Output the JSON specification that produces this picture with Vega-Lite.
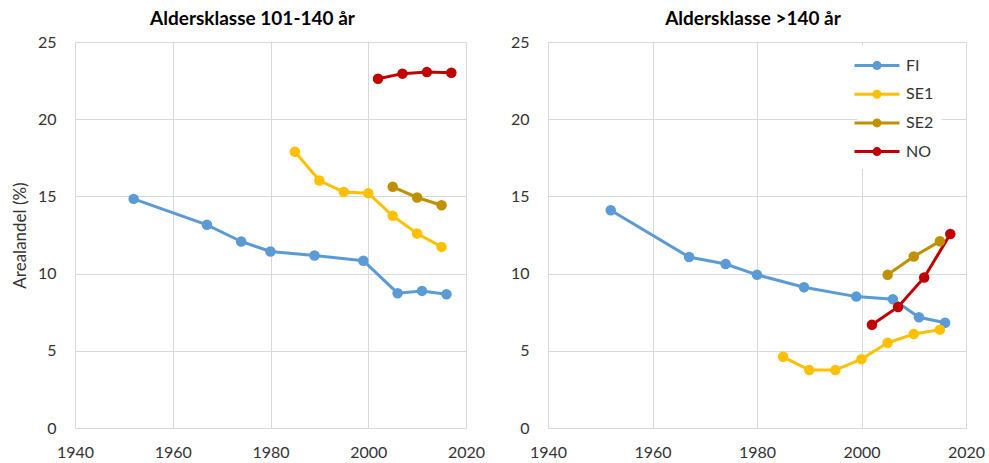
{
  "$schema": "https://vega.github.io/schema/vega-lite/v6.json",
  "padding": {"left": 11, "top": 10, "right": 5, "bottom": 5},
  "background": "white",
  "data": {"values": [
    {"panel": "A", "serie": "FI", "year": 1952, "value": 14.84},
    {"panel": "A", "serie": "FI", "year": 1967, "value": 13.16},
    {"panel": "A", "serie": "FI", "year": 1974, "value": 12.08},
    {"panel": "A", "serie": "FI", "year": 1980, "value": 11.43},
    {"panel": "A", "serie": "FI", "year": 1989, "value": 11.17},
    {"panel": "A", "serie": "FI", "year": 1999, "value": 10.83},
    {"panel": "A", "serie": "FI", "year": 2006, "value": 8.73},
    {"panel": "A", "serie": "FI", "year": 2011, "value": 8.88},
    {"panel": "A", "serie": "FI", "year": 2016, "value": 8.66},
    {"panel": "A", "serie": "SE1", "year": 1985, "value": 17.89},
    {"panel": "A", "serie": "SE1", "year": 1990, "value": 16.03},
    {"panel": "A", "serie": "SE1", "year": 1995, "value": 15.28},
    {"panel": "A", "serie": "SE1", "year": 2000, "value": 15.21},
    {"panel": "A", "serie": "SE1", "year": 2005, "value": 13.74},
    {"panel": "A", "serie": "SE1", "year": 2010, "value": 12.6},
    {"panel": "A", "serie": "SE1", "year": 2015, "value": 11.73},
    {"panel": "A", "serie": "SE2", "year": 2005, "value": 15.62},
    {"panel": "A", "serie": "SE2", "year": 2010, "value": 14.93},
    {"panel": "A", "serie": "SE2", "year": 2015, "value": 14.43},
    {"panel": "A", "serie": "NO", "year": 2002, "value": 22.62},
    {"panel": "A", "serie": "NO", "year": 2007, "value": 22.95},
    {"panel": "A", "serie": "NO", "year": 2012, "value": 23.05},
    {"panel": "A", "serie": "NO", "year": 2017, "value": 23.01},
    {"panel": "B", "serie": "FI", "year": 1952, "value": 14.1},
    {"panel": "B", "serie": "FI", "year": 1967, "value": 11.07},
    {"panel": "B", "serie": "FI", "year": 1974, "value": 10.62},
    {"panel": "B", "serie": "FI", "year": 1980, "value": 9.92},
    {"panel": "B", "serie": "FI", "year": 1989, "value": 9.12},
    {"panel": "B", "serie": "FI", "year": 1999, "value": 8.51},
    {"panel": "B", "serie": "FI", "year": 2006, "value": 8.34},
    {"panel": "B", "serie": "FI", "year": 2011, "value": 7.17},
    {"panel": "B", "serie": "FI", "year": 2016, "value": 6.82},
    {"panel": "B", "serie": "SE1", "year": 1985, "value": 4.61},
    {"panel": "B", "serie": "SE1", "year": 1990, "value": 3.75},
    {"panel": "B", "serie": "SE1", "year": 1995, "value": 3.75},
    {"panel": "B", "serie": "SE1", "year": 2000, "value": 4.46},
    {"panel": "B", "serie": "SE1", "year": 2005, "value": 5.52},
    {"panel": "B", "serie": "SE1", "year": 2010, "value": 6.09},
    {"panel": "B", "serie": "SE1", "year": 2015, "value": 6.37},
    {"panel": "B", "serie": "SE2", "year": 2005, "value": 9.92},
    {"panel": "B", "serie": "SE2", "year": 2010, "value": 11.11},
    {"panel": "B", "serie": "SE2", "year": 2015, "value": 12.09},
    {"panel": "B", "serie": "NO", "year": 2002, "value": 6.69},
    {"panel": "B", "serie": "NO", "year": 2007, "value": 7.84},
    {"panel": "B", "serie": "NO", "year": 2012, "value": 9.75},
    {"panel": "B", "serie": "NO", "year": 2017, "value": 12.56}
  ]},
  "spacing": 25,
  "resolve": {"legend": {"color": "independent"}},
  "hconcat": [
    {
      "width": 391,
      "height": 386,
      "title": {"text": "Aldersklasse 101-140 år", "dx": -18},
      "transform": [{"filter": "datum.panel == 'A'"}],
      "mark": {"type": "line", "strokeWidth": 3, "point": {"filled": true, "size": 110}},
      "encoding": {
        "x": {"field": "year", "type": "quantitative", "scale": {"domain": [1940, 2020], "nice": false, "zero": false},
              "axis": {"title": null, "values": [1940, 1960, 1980, 2000, 2020], "format": "d"}},
        "y": {"field": "value", "type": "quantitative", "scale": {"domain": [0, 25], "nice": false},
              "axis": {"title": "Arealandel (%)", "values": [0, 5, 10, 15, 20, 25]}},
        "color": {"field": "serie", "type": "nominal",
                  "scale": {"domain": ["FI", "SE1", "SE2", "NO"], "range": ["#5B9BD5", "#FFC000", "#BF9000", "#C00000"]},
                  "legend": null}
      }
    },
    {
      "width": 418,
      "height": 386,
      "title": {"text": "Aldersklasse >140 år", "dx": -4},
      "transform": [{"filter": "datum.panel == 'B'"}],
      "mark": {"type": "line", "strokeWidth": 3, "point": {"filled": true, "size": 110}},
      "encoding": {
        "x": {"field": "year", "type": "quantitative", "scale": {"domain": [1940, 2020], "nice": false, "zero": false},
              "axis": {"title": null, "values": [1940, 1960, 1980, 2000, 2020], "format": "d"}},
        "y": {"field": "value", "type": "quantitative", "scale": {"domain": [0, 25], "nice": false},
              "axis": {"title": null, "values": [0, 5, 10, 15, 20, 25]}},
        "color": {"field": "serie", "type": "nominal",
                  "scale": {"domain": ["FI", "SE1", "SE2", "NO"], "range": ["#5B9BD5", "#FFC000", "#BF9000", "#C00000"]},
                  "legend": {
                    "title": null,
                    "orient": "none",
                    "legendX": 309.5,
                    "legendY": 4,
                    "padding": 8,
                    "fillColor": "white",
                    "symbolType": "M-2.25,0H2.25M0.3,0A0.3,0.3 0 1,1 -0.3,0A0.3,0.3 0 1,1 0.3,0M0.16,0A0.16,0.16 0 1,1 -0.16,0A0.16,0.16 0 1,1 0.16,0M0.03,0A0.03,0.03 0 1,1 -0.03,0A0.03,0.03 0 1,1 0.03,0",
                    "symbolSize": 400,
                    "symbolStrokeWidth": 3,
                    "symbolOpacity": 1,
                    "labelOffset": 17.5,
                    "labelFont": "Lato",
                    "labelFontSize": 16,
                    "labelColor": "#333333",
                    "rowPadding": 7.7
                  }}
      }
    }
  ],
  "config": {
    "view": {"stroke": null},
    "font": "Lato",
    "title": {"font": "Lato", "fontSize": 19, "fontWeight": "bold", "color": "#000000", "offset": 5, "anchor": "middle"},
    "axis": {
      "domainColor": "#d9d9d9",
      "gridColor": "#d9d9d9",
      "grid": true,
      "ticks": false,
      "labelFont": "Lato",
      "labelFontSize": 16,
      "labelColor": "#333333",
      "labelFlush": false,
      "titleFont": "Lato",
      "titleFontSize": 17,
      "titleFontWeight": "normal",
      "titleColor": "#333333"
    },
    "axisX": {"labelPadding": 16},
    "axisY": {"labelPadding": 19, "titlePadding": 8}
  }
}
